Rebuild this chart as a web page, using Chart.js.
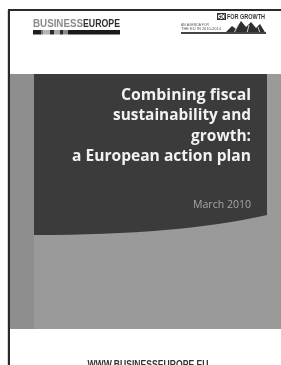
<!DOCTYPE html>
<html>
<head>
<meta charset="utf-8">
<script src="https://cdn.jsdelivr.net/npm/chart.js@4"></script>
<style>
  html, body { margin: 0; padding: 0; background: #ffffff; }
  #cover { display: block; }
</style>
</head>
<body>
<canvas id="cover" width="281" height="365"></canvas>
<script>
// texts of the cover
var titleLines = ['Combining fiscal', 'sustainability and', 'growth:', 'a European action plan'];
var dateText = 'March 2010';
var urlText = 'WWW.BUSINESSEUROPE.EU';
var logoWords = ['BUSINESS', 'EUROPE'];
var agendaTitle = 'GO FOR GROWTH';
var agendaLines = ['AN AGENDA FOR', 'THE EU IN 2010-2014'];

// draws text so that it spans a given width
function fitText(ctx, text, x, y, width, font, color, align) {
    ctx.save();
    ctx.font = font;
    ctx.fillStyle = color;
    ctx.textBaseline = 'alphabetic';
    var w = ctx.measureText(text).width;
    var s = width / w;
    var left = align === 'right' ? x - width : (align === 'center' ? x - width / 2 : x);
    ctx.translate(left, y);
    ctx.scale(s, 1);
    ctx.textAlign = 'left';
    ctx.fillText(text, 0, 0);
    ctx.restore();
}

var coverPlugin = {
    id: 'cover',
    beforeDraw: function (chart) {
        var ctx = chart.ctx;
        var xs = chart.scales.x, ys = chart.scales.y;
        var X = function (v) { return xs.getPixelForValue(v); };
        var Y = function (v) { return ys.getPixelForValue(v); };

        ctx.save();
        ctx.fillStyle = '#ffffff';
        ctx.fillRect(0, 0, chart.width, chart.height);

        // grey band
        ctx.fillStyle = '#9a9a9a';
        ctx.fillRect(X(10), Y(74), X(281) - X(10), Y(329) - Y(74));
        ctx.fillStyle = '#8e8e8e';
        ctx.fillRect(X(10), Y(74), X(34) - X(10), Y(329) - Y(74));

        // dark title box with curved bottom
        ctx.fillStyle = '#3b3b3b';
        ctx.beginPath();
        ctx.moveTo(X(34), Y(74));
        ctx.lineTo(X(267), Y(74));
        ctx.lineTo(X(267), Y(215));
        ctx.quadraticCurveTo(X(180), Y(235), X(34), Y(235));
        ctx.closePath();
        ctx.fill();

        // border of the page
        ctx.fillStyle = '#d8d8d8';
        ctx.fillRect(X(7), Y(10), 1, Y(365) - Y(10));
        ctx.fillStyle = '#2a2a2a';
        ctx.fillRect(X(8), Y(9), 2, Y(365) - Y(9));
        ctx.fillRect(X(8), Y(9), X(281) - X(8), 2);

        // BUSINESSEUROPE logo
        fitText(ctx, logoWords[0], X(33), Y(26.5), 50, 'bold 10px "Liberation Sans"', '#8a8a8a', 'left');
        fitText(ctx, logoWords[1], X(83), Y(26.5), 37, 'bold 10px "Liberation Sans"', '#2e2e2e', 'left');
        var stripe = [[33, 41, '#1e1e1e'], [41, 43, '#7a7a7a'], [43, 50, '#b4b4b4'], [50, 54, '#2a2a2a'],
                      [54, 60, '#a8a8a8'], [60, 63, '#2a2a2a'], [63, 68, '#8a8a8a'], [68, 120, '#1a1a1a']];
        stripe.forEach(function (s) {
            ctx.fillStyle = s[2];
            ctx.fillRect(X(s[0]), Y(30), X(s[1]) - X(s[0]), Y(34.5) - Y(30));
        });

        // GO FOR GROWTH logo
        fitText(ctx, agendaTitle, X(217), Y(19), 48, 'bold 7px "Liberation Sans"', '#333333', 'left');
        ctx.strokeStyle = '#333333';
        ctx.lineWidth = 1;
        ctx.strokeRect(X(217.5), Y(13.5), 8, 6);
        fitText(ctx, agendaLines[0], X(181), Y(26), 28, '4px "Liberation Sans"', '#555555', 'left');
        fitText(ctx, agendaLines[1], X(181), Y(30), 40, '4px "Liberation Sans"', '#555555', 'left');
        ctx.fillStyle = '#2e2e2e';
        ctx.beginPath();
        ctx.moveTo(X(224), Y(34));
        ctx.lineTo(X(232), Y(26));
        ctx.lineTo(X(236), Y(29));
        ctx.lineTo(X(241), Y(21));
        ctx.lineTo(X(246), Y(27));
        ctx.lineTo(X(251), Y(22));
        ctx.lineTo(X(256), Y(28));
        ctx.lineTo(X(260), Y(24));
        ctx.lineTo(X(266), Y(34));
        ctx.closePath();
        ctx.fill();
        ctx.strokeStyle = '#cfcfcf';
        ctx.beginPath();
        ctx.moveTo(X(238), Y(25)); ctx.lineTo(X(234), Y(33));
        ctx.moveTo(X(249), Y(25)); ctx.lineTo(X(247), Y(33));
        ctx.moveTo(X(258), Y(27)); ctx.lineTo(X(260), Y(33));
        ctx.stroke();
        ctx.fillStyle = '#444444';
        ctx.fillRect(X(181), Y(32), X(266) - X(181), 2);

        // title
        var font = 'bold 16px "Open Sans"';
        var widths = [130, 138, 60, 179];
        var baselines = [99.5, 120, 140.5, 161];
        titleLines.forEach(function (t, i) {
            fitText(ctx, t, X(251), Y(baselines[i]), widths[i], font, '#f2f2f2', 'right');
        });
        fitText(ctx, dateText, X(251), Y(208), 58, '11px "Open Sans"', '#a6a6a6', 'right');

        // web address at the foot
        fitText(ctx, urlText, X(148), Y(367.5), 121, 'bold 10px "Liberation Sans"', '#333333', 'center');
        ctx.restore();
    }
};

new Chart(document.getElementById('cover'), {
    type: 'scatter',
    data: { datasets: [{ data: [] }] },
    options: {
        responsive: false,
        animation: false,
        layout: { padding: 0 },
        plugins: { legend: { display: false }, tooltip: { enabled: false } },
        scales: {
            x: { type: 'linear', min: 0, max: 281, display: false },
            y: { type: 'linear', min: 0, max: 365, reverse: true, display: false }
        }
    },
    plugins: [coverPlugin]
});
</script>
</body>
</html>
